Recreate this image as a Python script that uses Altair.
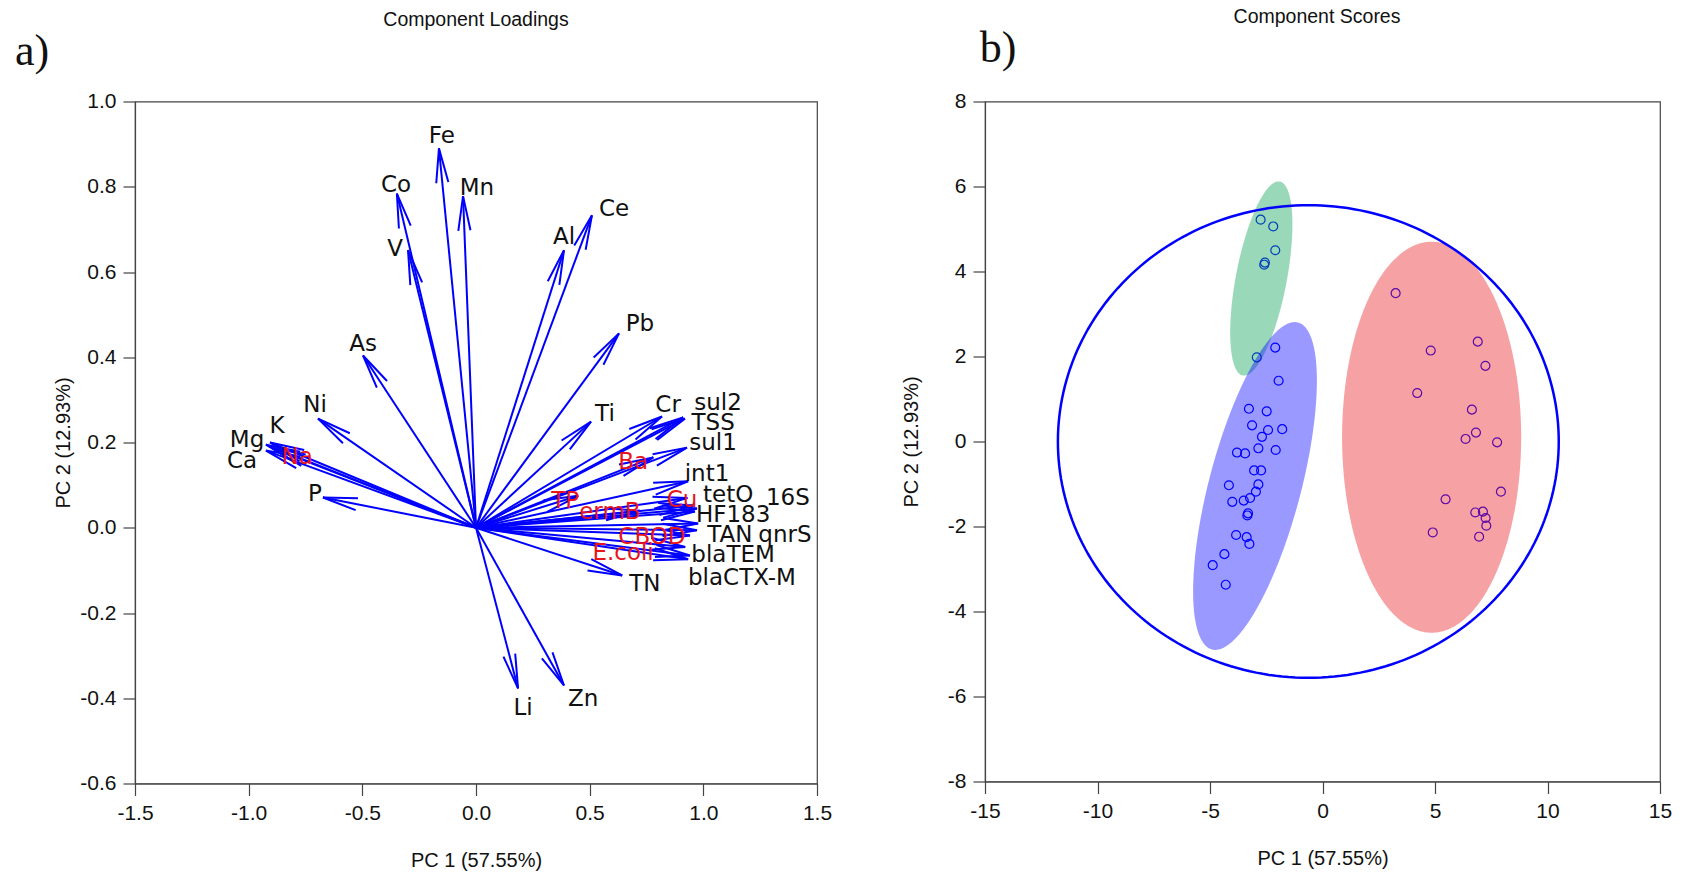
import math
import altair as alt
import pandas as pd

# ---------------- Panel a) Component loadings ----------------
loading_vars = ["Fe", "Co", "V", "Mn", "Al", "Ce", "Pb", "As", "Ni", "K", "Mg", "Ca", "Na", "P",
                "Ti", "Cr", "sul2", "TSS", "sul1", "Ba", "int1", "tetO", "Cu", "16S", "HF183",
                "TAN", "qnrS", "CBOD", "blaTEM", "blaCTX-M", "E.coli", "TN", "TP", "ermB", "Li", "Zn"]
loading_pc1 = [-0.163, -0.348, -0.299, -0.057, 0.387, 0.510, 0.629, -0.497, -0.695, -0.906, -0.924,
               -0.924, -0.900, -0.673, 0.506, 0.818, 0.911, 0.919, 0.928, 0.780, 0.933, 0.955, 0.930,
               0.972, 0.963, 0.977, 0.972, 0.941, 0.941, 0.933, 0.920, 0.643, 0.450, 0.720, 0.185, 0.387]
loading_pc2 = [0.890, 0.784, 0.651, 0.778, 0.651, 0.733, 0.456, 0.404, 0.256, 0.200, 0.195, 0.181,
               0.188, 0.071, 0.249, 0.261, 0.259, 0.256, 0.188, 0.165, 0.109, 0.052, 0.070, 0.045,
               0.038, 0.010, -0.006, -0.018, -0.065, -0.074, -0.045, -0.112, 0.075, 0.040, -0.377, -0.370]
label_pc1 = [-0.150, -0.352, -0.356, 0.004, 0.387, 0.607, 0.721, -0.497, -0.708, -0.875, -1.007,
             -1.029, -0.787, -0.708, 0.567, 0.845, 1.065, 1.043, 1.043, 0.691, 1.016, 1.109, 0.906,
             1.372, 1.131, 1.117, 1.359, 0.774, 1.131, 1.170, 0.647, 0.743, 0.392, 0.589, 0.207, 0.471]
label_pc2 = [0.925, 0.812, 0.662, 0.803, 0.690, 0.756, 0.484, 0.439, 0.296, 0.245, 0.214, 0.163,
             0.174, 0.087, 0.273, 0.296, 0.299, 0.252, 0.207, 0.161, 0.132, 0.085, 0.073, 0.076,
             0.038, -0.009, -0.009, -0.014, -0.056, -0.112, -0.053, -0.126, 0.069, 0.045, -0.417, -0.395]
red_labels = ["Na", "Ba", "TP", "ermB", "Cu", "CBOD", "E.coli"]

x_ticks_a = [-1.5, -1.0, -0.5, 0.0, 0.5, 1.0, 1.5]
y_ticks_a = [-0.6, -0.4, -0.2, 0.0, 0.2, 0.4, 0.6, 0.8, 1.0]

# ---------------- Panel b) Component scores ----------------
score_pc1 = [-2.75, -2.19, -2.10, -2.56, -2.59,
             -2.92, -2.10, -1.95, -3.27, -2.48, -3.13, -2.42, -1.79, -2.69, -2.85, -2.08, -3.80,
             -3.44, -3.04, -2.73, -4.16, -2.85, -2.96, -4.01, -3.50, -3.22, -3.31, -3.34, -3.84,
             -3.37, -3.25, -4.36, -4.88, -4.30,
             3.25, 4.81, 6.90, 7.24, 4.21, 6.64, 6.82, 6.36, 7.76, 7.93, 5.47, 6.79, 7.13, 7.25,
             7.28, 4.90, 6.96]
score_pc2 = [5.22, 5.06, 4.50, 4.21, 4.16,
             1.98, 2.21, 1.43, 0.77, 0.71, 0.38, 0.27, 0.29, 0.11, -0.16, -0.20, -0.26,
             -0.28, -0.68, -0.68, -1.03, -1.01, -1.18, -1.42, -1.39, -1.33, -1.69, -1.74, -2.20,
             -2.25, -2.41, -2.65, -2.91, -3.37,
             3.49, 2.14, 2.35, 1.78, 1.14, 0.75, 0.21, 0.06, -0.02, -1.18, -1.36, -1.67, -1.65, -1.80,
             -1.98, -2.14, -2.24]

group_names = ["g1", "g2", "g3"]
group_colors = ["#00A050", "#0000FF", "#E8161E"]
group_center_pc1 = [-2.72, -3.00, 4.85]
group_center_pc2 = [3.835, -1.047, 0.10]
group_axis1 = [(0.822, 2.282), (1.911, 3.847), (0.0, 4.60)]
group_axis2 = [(1.112, -0.112), (1.978, -0.275), (3.98, 0.0)]
all_center = (-0.63, 0.0)
all_radii = (11.13, 5.56)

x_ticks_b = [-15, -10, -5, 0, 5, 10, 15]
y_ticks_b = [-8, -6, -4, -2, 0, 2, 4, 6, 8]

# ---------------- layout / style ----------------
LW, LH = 682, 682
RW, RH = 675, 680
BLUE = "#0000FF"
AXC = "#444444"
TXT = "#111111"
SANS = "Liberation Sans"

# ---------------- data frames ----------------
ppx = LW / 3.0
ppy = LH / 1.6
arrows = pd.DataFrame({
    "var": loading_vars,
    "x": [0.0] * len(loading_vars),
    "y": [0.0] * len(loading_vars),
    "tx": loading_pc1,
    "ty": loading_pc2,
})
arrows["ang"] = [
    math.degrees(math.atan2(-b * ppy, a * ppx)) % 360 for a, b in zip(loading_pc1, loading_pc2)
]
heads = pd.DataFrame({"x": loading_pc1, "y": loading_pc2, "ang": arrows["ang"]})
labels = pd.DataFrame({
    "x": label_pc1,
    "y": label_pc2,
    "t": loading_vars,
    "col": ["#E8141C" if v in red_labels else TXT for v in loading_vars],
})

scores = pd.DataFrame({"x": score_pc1, "y": score_pc2})

rows = []
for g, cx, cy, (ax, ay), (bx, by) in zip(group_names, group_center_pc1, group_center_pc2,
                                         group_axis1, group_axis2):
    R = math.hypot(ax, bx)
    phi = math.atan2(bx, ax)
    n = 160
    for k in range(n + 1):
        s = math.pi * k / n
        t1, t2 = phi + s, phi - s
        y1 = cy + ay * math.cos(t1) + by * math.sin(t1)
        y2 = cy + ay * math.cos(t2) + by * math.sin(t2)
        rows.append({"grp": g, "x": cx + R * math.cos(s), "y": min(y1, y2), "y2": max(y1, y2)})
ell = pd.DataFrame(rows)

outer_rows = []
m = 240
for k in range(m + 1):
    t = 2 * math.pi * k / m
    outer_rows.append({"i": k, "x": all_center[0] + all_radii[0] * math.cos(t),
                       "y": all_center[1] + all_radii[1] * math.sin(t)})
outer = pd.DataFrame(outer_rows)


def axis(values, fmt, title, orient, title_x=None):
    common = dict(values=values, format=fmt, title=title, grid=False, domain=True,
                  domainColor=AXC, domainWidth=1.2, ticks=True, tickColor=AXC, tickWidth=1.2,
                  tickSize=12, labelFont=SANS, labelFontSize=21, labelColor=TXT,
                  labelFlush=False, labelOverlap=False,
                  labelExpr="replace(datum.label, '\u2212', '-')",
                  titleFont=SANS, titleFontSize=20, titleFontWeight="normal", titleColor=TXT,
                  titleBaseline="middle")
    if orient == "x":
        common.update(labelPadding=7, titleY=77)
    else:
        common.update(labelPadding=7, titleAngle=-90, titleX=title_x)
    return alt.Axis(**common)


def enc_a():
    return dict(
        x=alt.X("x:Q", scale=alt.Scale(domain=[-1.5, 1.5], nice=False, zero=False),
                axis=axis(x_ticks_a, ".1f", "PC 1 (57.55%)", "x")),
        y=alt.Y("y:Q", scale=alt.Scale(domain=[-0.6, 1.0], nice=False, zero=False),
                axis=axis(y_ticks_a, ".1f", "PC 2 (12.93%)", "y", title_x=-72)),
    )


def enc_b():
    return dict(
        x=alt.X("x:Q", scale=alt.Scale(domain=[-15, 15], nice=False, zero=False),
                axis=axis(x_ticks_b, "d", "PC 1 (57.55%)", "x")),
        y=alt.Y("y:Q", scale=alt.Scale(domain=[-8, 8], nice=False, zero=False),
                axis=axis(y_ticks_b, "d", "PC 2 (12.93%)", "y", title_x=-74)),
    )


# ---------------- panel a ----------------
shafts = alt.Chart(arrows).mark_rule(color=BLUE, strokeWidth=2).encode(
    **enc_a(), x2=alt.X2("tx:Q"), y2=alt.Y2("ty:Q"))
heads_l = alt.Chart(heads).mark_point(
    shape="M-1,-0.1763L0,0L-1,0.1763", size=4753, filled=False, stroke=BLUE,
    strokeWidth=2, opacity=1, fill="transparent").encode(
    **enc_a(), angle=alt.Angle("ang:Q", scale=None))
labels_l = alt.Chart(labels).mark_text(font="DejaVu Sans", fontSize=23, align="center",
                                       baseline="middle", dy=3).encode(
    **enc_a(), text="t:N", color=alt.Color("col:N", scale=None))

title_a = alt.Chart(pd.DataFrame({"t": ["Component Loadings"]})).mark_text(
    font=SANS, fontSize=19.5, color=TXT, align="center", baseline="middle").encode(
    x=alt.value(LW / 2), y=alt.value(-82), text="t:N")
tag_a = alt.Chart(pd.DataFrame({"t": ["a)"]})).mark_text(
    font="Liberation Serif", fontSize=44, color=TXT, align="center", baseline="middle").encode(
    x=alt.value(-103), y=alt.value(-50), text="t:N")

left = alt.layer(shafts, heads_l, labels_l, title_a, tag_a).properties(width=LW, height=LH)

# ---------------- panel b ----------------
pts = alt.Chart(scores).mark_point(shape="circle", size=80, filled=False, stroke=BLUE,
                                   strokeWidth=1.2, opacity=1).encode(**enc_b())
areas = alt.Chart(ell).mark_area(opacity=0.4).encode(
    **enc_b(), y2=alt.Y2("y2:Q"),
    fill=alt.Fill("grp:N", scale=alt.Scale(domain=group_names, range=group_colors), legend=None))
outline = alt.Chart(outer).mark_line(color=BLUE, strokeWidth=2.5).encode(
    **enc_b(), order=alt.Order("i:Q"))
title_b = alt.Chart(pd.DataFrame({"t": ["Component Scores"]})).mark_text(
    font=SANS, fontSize=19.5, color=TXT, align="center", baseline="middle").encode(
    x=alt.value(332), y=alt.value(-85), text="t:N")
tag_b = alt.Chart(pd.DataFrame({"t": ["b)"]})).mark_text(
    font="Liberation Serif", fontSize=44, color=TXT, align="center", baseline="middle").encode(
    x=alt.value(13), y=alt.value(-53), text="t:N")

right = alt.layer(pts, areas, outline, title_b, tag_b).properties(width=RW, height=RH)

chart = alt.hconcat(left, right, spacing=168, bounds="flush").properties(
    autosize=alt.AutoSizeParams(type="none"),
    padding={"left": 135, "top": 101.5, "right": 1686 - 135, "bottom": 873 - 101.5},
    background="white",
).configure_view(stroke=AXC, strokeWidth=1.2)

chart.save("out.html", embed_options={"renderer": "svg", "actions": False})
